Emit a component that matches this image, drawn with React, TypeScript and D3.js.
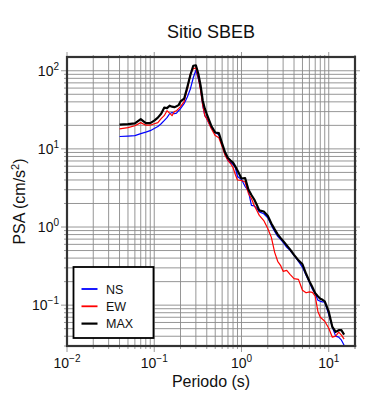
import React from "react";
import * as d3 from "d3";

const periods = [0.04, 0.05, 0.06, 0.07, 0.08, 0.09, 0.10, 0.11, 0.12, 0.13, 0.14, 0.15, 0.16, 0.17, 0.18, 0.19, 0.20, 0.22, 0.24, 0.26, 0.28, 0.30, 0.32, 0.34, 0.36, 0.38, 0.40, 0.45, 0.50, 0.55, 0.60, 0.65, 0.70, 0.75, 0.80, 0.85, 0.90, 1.0, 1.1, 1.2, 1.3, 1.4, 1.5, 1.6, 1.8, 2.0, 2.2, 2.4, 2.6, 2.8, 3.0, 3.3, 3.6, 4.0, 4.5, 5.0, 5.5, 6.0, 6.5, 7.0, 7.5, 8.0, 8.5, 9.0, 10, 11, 12, 13, 14, 15];

const nsValues = [14.4, 14.6, 14.8, 15.7, 16.4, 17.1, 18.2, 19.3, 21.0, 23.0, 25.1, 28.2, 29.3, 28.2, 28.7, 30.8, 32.7, 37.9, 46.5, 58.9, 81.4, 101.5, 79.0, 58.9, 35.7, 26.6, 24.4, 18.7, 16.2, 15.2, 11.0, 8.46, 7.09, 6.68, 6.30, 5.77, 4.43, 4.05, 3.30, 2.89, 1.89, 1.86, 1.73, 1.56, 1.48, 1.31, 1.05, 0.879, 0.759, 0.694, 0.636, 0.549, 0.502, 0.434, 0.364, 0.305, 0.241, 0.196, 0.160, 0.140, 0.116, 0.112, 0.110, 0.109, 0.0765, 0.0522, 0.0401, 0.0389, 0.0356, 0.0307];

const ewValues = [18.0, 18.7, 19.8, 21.7, 20.1, 20.1, 21.0, 21.7, 24.4, 26.6, 30.8, 28.7, 26.6, 30.0, 30.8, 32.7, 34.7, 40.2, 58.9, 91.5, 106, 109, 81.4, 55.5, 35.7, 26.6, 24.4, 18.2, 14.8, 13.9, 10.7, 8.21, 7.09, 6.49, 5.77, 4.70, 4.00, 3.94, 3.77, 2.69, 2.32, 1.89, 1.63, 1.41, 1.21, 0.960, 0.737, 0.474, 0.364, 0.323, 0.271, 0.279, 0.248, 0.219, 0.214, 0.155, 0.144, 0.148, 0.146, 0.130, 0.0836, 0.0701, 0.0661, 0.0623, 0.0507, 0.0389, 0.0401, 0.0451, 0.0413, 0.0367];

const maxValues = [20.4, 20.7, 21.2, 24.0, 21.4, 21.4, 23.0, 25.1, 28.2, 33.7, 33.2, 35.7, 34.7, 34.2, 35.2, 36.3, 40.5, 43.9, 62.5, 88.9, 115.8, 117.5, 91.5, 64.3, 41.4, 32.7, 27.8, 19.8, 16.2, 15.9, 11.7, 8.97, 7.63, 7.09, 6.68, 5.94, 5.28, 4.18, 4.24, 3.02, 2.57, 2.25, 1.91, 1.63, 1.58, 1.39, 1.11, 0.932, 0.804, 0.726, 0.665, 0.582, 0.518, 0.440, 0.374, 0.333, 0.252, 0.202, 0.169, 0.142, 0.130, 0.121, 0.117, 0.112, 0.0824, 0.0527, 0.0455, 0.0478, 0.0478, 0.0419];

const seriesNames = ["NS", "EW", "MAX"];
const seriesColors = ["#0000ff", "#ff0000", "#000000"];
const seriesWidths = [1.2, 1.2, 2.2];
const seriesData = [nsValues, ewValues, maxValues];

const xMajorExps = [-2, -1, 0, 1];
const yMajorExps = [-1, 0, 1, 2];

const title = "Sitio SBEB";
const xLabel = "Periodo (s)";

const W = 390, H = 400;
const L = 67, R = 355, T = 57, B = 346;
const FONT = "'Liberation Sans', Arial, Helvetica, sans-serif";

export default function App() {
  const x = d3.scaleLog().domain([0.01, 20]).range([L, R]);
  const y = d3.scaleLog().domain([0.03, 150]).range([B, T]);

  const xGrid: number[] = [];
  for (let e = -2; e <= 1; e++) for (let m = 1; m <= 9; m++) {
    const v = m * Math.pow(10, e);
    if (v <= 20) xGrid.push(v);
  }
  xGrid.push(20);
  const yGrid: number[] = [];
  for (let e = -2; e <= 2; e++) for (let m = 1; m <= 9; m++) {
    const v = m * Math.pow(10, e);
    if (v >= 0.03 - 1e-9 && v <= 150) yGrid.push(v);
  }

  const line = (vals: number[]) =>
    d3.line<number>().x((_, i) => x(periods[i])).y((d) => y(d))(vals) || "";

  const gridColor = "#8a8a8a";
  const tickColor = "#9a9a9a";

  return (
    <svg width={W} height={H} style={{ display: "block", position: "absolute", left: 0, top: 0 }} fontFamily={FONT}>
      <rect width={W} height={H} fill="#fff" />
      <defs>
        <clipPath id="plotclip">
          <rect x={L} y={T} width={R - L} height={B - T} />
        </clipPath>
      </defs>
      {/* grid */}
      {xGrid.map((v, i) => (
        <line key={"gx" + i} x1={x(v)} x2={x(v)} y1={T} y2={B} stroke={gridColor} strokeWidth={0.9} />
      ))}
      {yGrid.map((v, i) => (
        <line key={"gy" + i} x1={L} x2={R} y1={y(v)} y2={y(v)} stroke={gridColor} strokeWidth={0.9} />
      ))}
      {/* outer ticks */}
      {xGrid.map((v, i) => {
        const major = xMajorExps.some((e) => Math.abs(Math.pow(10, e) - v) < 1e-9);
        return (
          <g key={"tx" + i}>
            <line x1={x(v)} x2={x(v)} y1={B} y2={B + (major ? 6 : 3)} stroke={tickColor} strokeWidth={1} />
            <line x1={x(v)} x2={x(v)} y1={T} y2={T - (major ? 5 : 2)} stroke={tickColor} strokeWidth={1} />
          </g>
        );
      })}
      {yGrid.map((v, i) => {
        const major = yMajorExps.some((e) => Math.abs(Math.pow(10, e) - v) < 1e-9);
        return (
          <g key={"ty" + i}>
            <line x1={L} x2={L - (major ? 6 : 3)} y1={y(v)} y2={y(v)} stroke={tickColor} strokeWidth={1} />
            <line x1={R} x2={R + (major ? 5 : 2)} y1={y(v)} y2={y(v)} stroke={tickColor} strokeWidth={1} />
          </g>
        );
      })}
      {/* curves */}
      <g clipPath="url(#plotclip)">
        {seriesData.map((vals, k) => (
          <path key={"s" + k} d={line(vals)} fill="none" stroke={seriesColors[k]} strokeWidth={seriesWidths[k]} strokeLinejoin="round" />
        ))}
      </g>
      {/* frame */}
      <rect x={L} y={T} width={R - L} height={B - T} fill="none" stroke="#333" strokeWidth={2.2} />
      {/* x tick labels */}
      {xMajorExps.map((e) => (
        <text key={"xl" + e} x={x(Math.pow(10, e))} y={368} textAnchor="middle" fontSize={14} fill="#111">
          10<tspan dy={-6} fontSize={10}>{e < 0 ? "\u2212" + Math.abs(e) : String(e)}</tspan>
        </text>
      ))}
      {/* y tick labels */}
      {yMajorExps.map((e) => (
        <text key={"yl" + e} x={59} y={y(Math.pow(10, e)) + 5} textAnchor="end" fontSize={14} fill="#111">
          10<tspan dy={-6} fontSize={10}>{e < 0 ? "\u2212" + Math.abs(e) : String(e)}</tspan>
        </text>
      ))}
      {/* titles */}
      <text x={(L + R) / 2} y={38} textAnchor="middle" fontSize={18} fill="#111">{title}</text>
      <text x={(L + R) / 2} y={387} textAnchor="middle" fontSize={16} fill="#111">{xLabel}</text>
      <text transform={`translate(25, ${(T + B) / 2}) rotate(-90)`} textAnchor="middle" fontSize={16} fill="#111">
        PSA (cm/s<tspan dy={-6} fontSize={11}>2</tspan><tspan dy={6}>)</tspan>
      </text>
      {/* legend */}
      <rect x={73.5} y={267} width={80} height={71} fill="#fff" stroke="#000" strokeWidth={1.8} />
      {seriesNames.map((n, k) => (
        <g key={"lg" + k}>
          <line x1={81.5} x2={97.5} y1={289 + k * 17.3} y2={289 + k * 17.3} stroke={seriesColors[k]} strokeWidth={k === 2 ? 2.2 : 1.8} />
          <text x={106} y={289 + k * 17.3 + 4.5} fontSize={12.5} fill="#111">{n}</text>
        </g>
      ))}
    </svg>
  );
}
